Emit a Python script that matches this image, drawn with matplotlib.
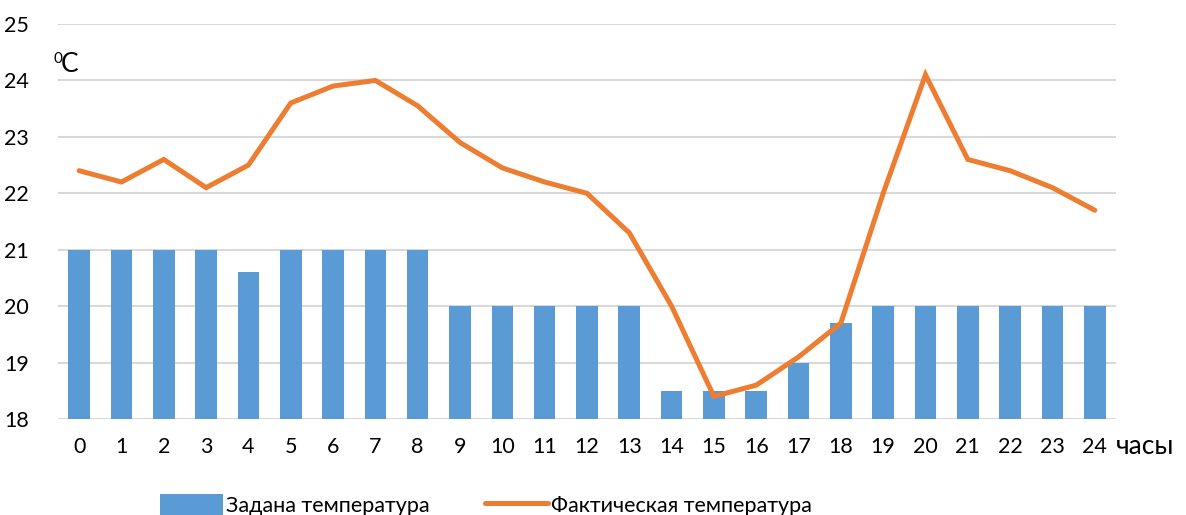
import matplotlib.pyplot as plt
import numpy as np

# hours of the day
hours = list(range(25))
hour_labels = [str(h) for h in hours]

# set temperature (bars) and actual temperature (line)
set_temp = [21, 21, 21, 21, 20.6, 21, 21, 21, 21, 20, 20, 20, 20, 20,
            18.5, 18.5, 18.5, 19, 19.7, 20, 20, 20, 20, 20, 20]
actual_temp = [22.4, 22.2, 22.6, 22.1, 22.5, 23.6, 23.9, 24.0, 23.55, 22.9,
               22.45, 22.2, 22.0, 21.3, 20.0, 18.4, 18.6, 19.1, 19.7, 22.0,
               24.1, 22.6, 22.4, 22.1, 21.7]

bar_label = "Задана температура"
line_label = "Фактическая температура"

plt.rcParams['font.family'] = ['Lato', 'DejaVu Sans']

fig = plt.figure(figsize=(11.86, 5.15), dpi=100)
ax = fig.add_axes([0.0489, 0.1864, 0.892, 0.767])

x = np.arange(len(hours))
bars = ax.bar(x, np.array(set_temp) - 18, bottom=18, width=0.51,
              color='#5B9BD5', zorder=2)
line, = ax.plot(x, actual_temp, color='#ED7D31', linewidth=3.6,
                solid_capstyle='round', solid_joinstyle='miter', zorder=3)

ax.set_xlim(-0.5, len(hours) - 0.5)
ax.set_ylim(18, 25)
ax.set_yticks(range(18, 26))
ax.set_xticks(x)
ax.set_xticklabels(hour_labels)
ax.tick_params(axis='both', length=0, labelsize=15.5, colors='#000000')
ax.tick_params(axis='y', pad=21)
ax.tick_params(axis='x', pad=13)
ax.grid(axis='y', color='#D9D9D9', linewidth=1.5, zorder=0)
ax.set_axisbelow(True)
for s in ax.spines.values():
    s.set_visible(False)

# unit labels
fig.text(54 / 1186, 1 - 59 / 515, "0", fontsize=11, ha='left', va='center')
fig.text(61 / 1186, 1 - 65 / 515, "C", fontsize=19, ha='left', va='center')
fig.text(1116 / 1186, 1 - 447 / 515, "часы", fontsize=19, ha='left', va='center')

fig.legend([bars, line], [bar_label, line_label], loc='center',
           bbox_to_anchor=(486 / 1186, 1 - 505 / 515),
           ncol=2, frameon=False, fontsize=15.5, handlelength=2.9,
           handletextpad=0.15, columnspacing=2.6, handleheight=1.1)

fig.savefig('out.png', dpi=100)
